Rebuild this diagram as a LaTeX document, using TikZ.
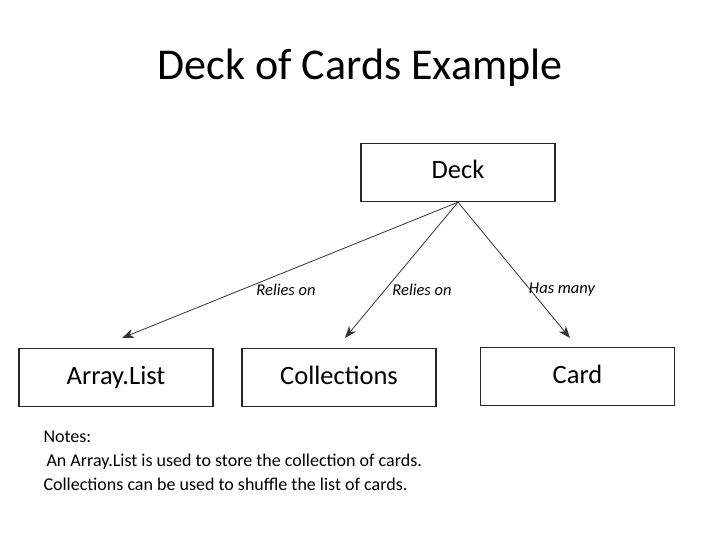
\documentclass[tikz,border=0pt]{standalone}
\usepackage{fontspec}
\setmainfont{Carlito}
\usetikzlibrary{arrows.meta}
\begin{document}
\begin{tikzpicture}[x=1pt,y=-1pt,
  box/.style={draw=black!85,line width=1.4pt,minimum width=194pt,minimum height=58pt,text height=18pt,text depth=5pt,font=\fontsize{26.5}{30}\selectfont},
  conn/.style={draw=black!80,line width=0.8pt,-{Stealth[length=12pt,width=9pt]}},
  lbl/.style={font=\fontsize{16.5}{19}\selectfont\itshape,inner sep=1pt}]
\useasboundingbox[fill=white] (0,0) rectangle (720,540);
\node[font=\fontsize{44}{50}\selectfont] (title) at (360,68) {Deck of Cards Example};
\node[box] (deck) at (458,172.5) {Deck};
\node[box] (al) at (116,377.5) {Array.List};
\node[box] (col) at (339,377.5) {Collections};
\node[box] (card) at (577.5,376.5) {Card};
\coordinate (t1) at (122,338);
\coordinate (t2) at (345,338);
\coordinate (t3) at (570,338);
\draw[conn] (deck.south) -- (t1);
\draw[conn] (deck.south) -- (t2);
\draw[conn] (deck.south) -- (t3);
\node[lbl] (l1) at (286,290) {Relies on};
\node[lbl] (l2) at (422,290) {Relies on};
\node[lbl] (l3) at (562,290) {Has many};
\node[anchor=north west,align=left,font=\fontsize{18}{24}\selectfont] (notes) at (40,427)
 {Notes:\\ \hspace*{3pt}An Array.List is used to store the collection of cards.\\Collections can be used to shuffle the list of cards.};
\end{tikzpicture}
\end{document}
